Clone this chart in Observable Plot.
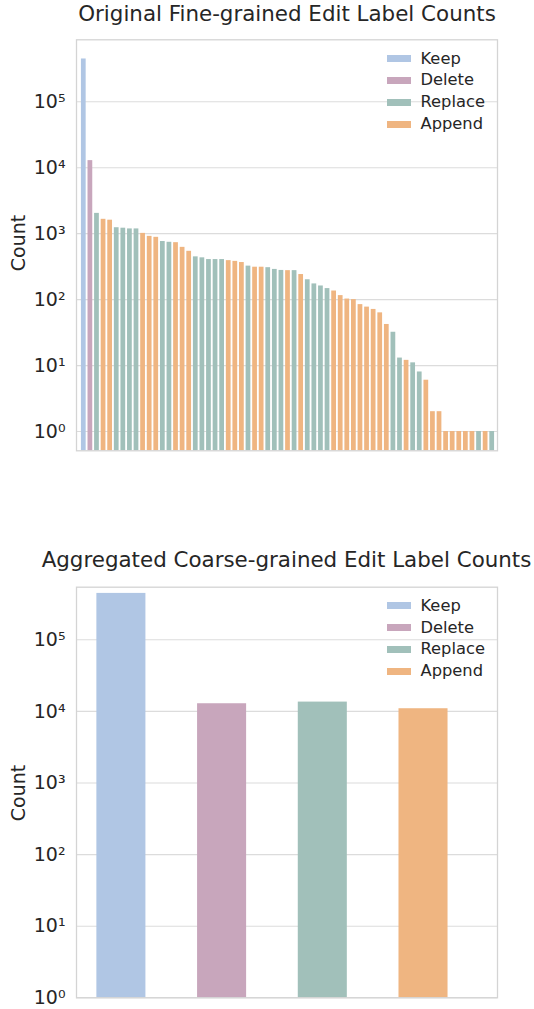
<!DOCTYPE html>
<html>
<head>
<meta charset="utf-8">
<script src="https://cdn.jsdelivr.net/npm/d3@7"></script>
<script src="https://cdn.jsdelivr.net/npm/@observablehq/plot@0.6"></script>
<style>
  body { margin: 0; background: #fff; font-family: "DejaVu Sans", sans-serif; color: #262626; }
  #root { position: relative; width: 534px; height: 1009px; overflow: hidden; background: #fff; }
  .abs { position: absolute; }
  .title { font-size: 21.4px; line-height: 1; white-space: nowrap; transform: translateX(-50%); }
  .ylab { font-size: 19px; line-height: 1; white-space: nowrap; transform: translate(-50%, -50%) rotate(-90deg); }
  .lgtext { font-size: 16.3px; line-height: 1; white-space: nowrap; }
  .sw { width: 24px; height: 7px; }
</style>
</head>
<body>
<div id="root"></div>
<script>
// ---------- data ----------
const types = ["Keep", "Delete", "Replace", "Append"];
const colors = ["#b0c6e4", "#c8a6bc", "#a1c0ba", "#efb581"];

const fineTypes = [
  "Keep", "Delete", "Replace", "Append", "Append", "Replace", "Replace", "Replace", "Replace", "Append",
  "Append", "Append", "Replace", "Replace", "Append", "Append", "Append", "Replace", "Replace", "Replace",
  "Replace", "Replace", "Append", "Append", "Append", "Replace", "Append", "Append", "Replace", "Replace",
  "Replace", "Append", "Replace", "Append", "Replace", "Replace", "Replace", "Replace", "Append", "Append",
  "Append", "Append", "Append", "Append", "Append", "Append", "Append", "Replace", "Replace", "Append",
  "Replace", "Replace", "Append", "Append", "Append", "Append", "Append", "Append", "Append", "Append",
  "Replace", "Append", "Replace"
];
const fineCounts = [
  445000, 12800, 2030, 1650, 1600, 1230, 1210, 1180, 1180, 1010,
  910, 880, 760, 740, 730, 620, 540, 445, 430, 405,
  405, 405, 390, 380, 365, 322, 310, 310, 305, 287,
  277, 275, 275, 240, 200, 173, 161, 147, 135, 115,
  102, 100, 84, 77, 71, 63, 42, 32, 13, 12,
  11, 8, 6, 2, 2, 1, 1, 1, 1, 1,
  1, 1, 1
];

const coarseTypes = ["Keep", "Delete", "Replace", "Append"];
const coarseCounts = [445000, 12800, 13500, 10900];

const tickValues = [1, 10, 100, 1000, 10000, 100000];
const tickLabels = ["10⁰", "10¹", "10²", "10³", "10⁴", "10⁵"];

const titles = ["Original Fine-grained Edit Label Counts", "Aggregated Coarse-grained Edit Label Counts"];
const yLabel = "Count";

// ---------- helpers ----------
const root = document.getElementById("root");
const fmt = v => tickLabels[tickValues.indexOf(v)] ?? "";

function place(el, top, left) {
  el.classList.add("abs");
  el.style.top = top + "px";
  el.style.left = left + "px";
  root.appendChild(el);
  return el;
}
function textDiv(cls, txt) {
  const d = document.createElement("div");
  d.className = cls;
  d.textContent = txt;
  return d;
}
function legend(firstCenter) {
  types.forEach((t, i) => {
    const cy = firstCenter + i * 21.9;
    const sw = document.createElement("div");
    sw.className = "sw";
    sw.style.background = colors[i];
    place(sw, cy - 3.5, 387);
    place(textDiv("lgtext", t), cy - 8.2, 420.5);
  });
}

const style = { fontFamily: "DejaVu Sans", color: "#262626", background: "transparent", overflow: "visible" };
const gridStyle = { stroke: "#dcdcdc", strokeOpacity: 1, strokeWidth: 1.1 };
const frameStyle = { stroke: "#d4d4d4", strokeWidth: 1.3 };

// ---------- chart 1 ----------
const fine = fineCounts.map((c, i) => ({ idx: i, type: fineTypes[i], count: c }));
const y1Min = Math.pow(10, -0.292), y1Max = Math.pow(10, 5.939);

const p1 = Plot.plot({
  width: 534, height: 460,
  marginLeft: 76, marginRight: 37, marginTop: 39.3, marginBottom: 9.7,
  style,
  x: { type: "band", domain: fine.map(d => d.idx), paddingInner: 0.28, paddingOuter: 0.14, insetLeft: 4, insetRight: 2, round: false, axis: null },
  y: { type: "log", domain: [y1Min, y1Max] },
  color: { domain: types, range: colors },
  marks: [
    Plot.gridY(tickValues, gridStyle),
    Plot.barY(fine, { x: "idx", y1: y1Min, y2: "count", fill: "type" }),
    Plot.frame(frameStyle),
    Plot.axisY(tickValues, { tickSize: 0, tickPadding: 11, tickFormat: fmt, fontSize: 19, label: null, fill: "#262626" })
  ]
});
const w1 = document.createElement("div");
w1.appendChild(p1);
place(w1, 0, 0);

// ---------- chart 2 ----------
const coarse = coarseCounts.map((c, i) => ({ type: coarseTypes[i], count: c }));
const y2Min = 1, y2Max = Math.pow(10, 5.735);

const p2 = Plot.plot({
  width: 534, height: 490,
  marginLeft: 76, marginRight: 37, marginTop: 66.7, marginBottom: 12.7,
  style,
  x: { type: "band", domain: coarseTypes, paddingInner: 0.513, paddingOuter: 0.1, insetLeft: 10.3, insetRight: 39.4, round: false, axis: null },
  y: { type: "log", domain: [y2Min, y2Max] },
  color: { domain: types, range: colors },
  marks: [
    Plot.gridY(tickValues, gridStyle),
    Plot.barY(coarse, { x: "type", y1: y2Min, y2: "count", fill: "type" }),
    Plot.frame(frameStyle),
    Plot.axisY(tickValues, { tickSize: 0, tickPadding: 11, tickFormat: fmt, fontSize: 19, label: null, fill: "#262626" })
  ]
});
const w2 = document.createElement("div");
w2.appendChild(p2);
place(w2, 520, 0);

// ---------- titles, labels, legends ----------
place(textDiv("title", titles[0]), 2.8, 287);
place(textDiv("title", titles[1]), 548.5, 286.5);
place(textDiv("ylab", yLabel), 243.3, 18);
place(textDiv("ylab", yLabel), 792.5, 18);
legend(58.7);
legend(605.8);
</script>
</body>
</html>
